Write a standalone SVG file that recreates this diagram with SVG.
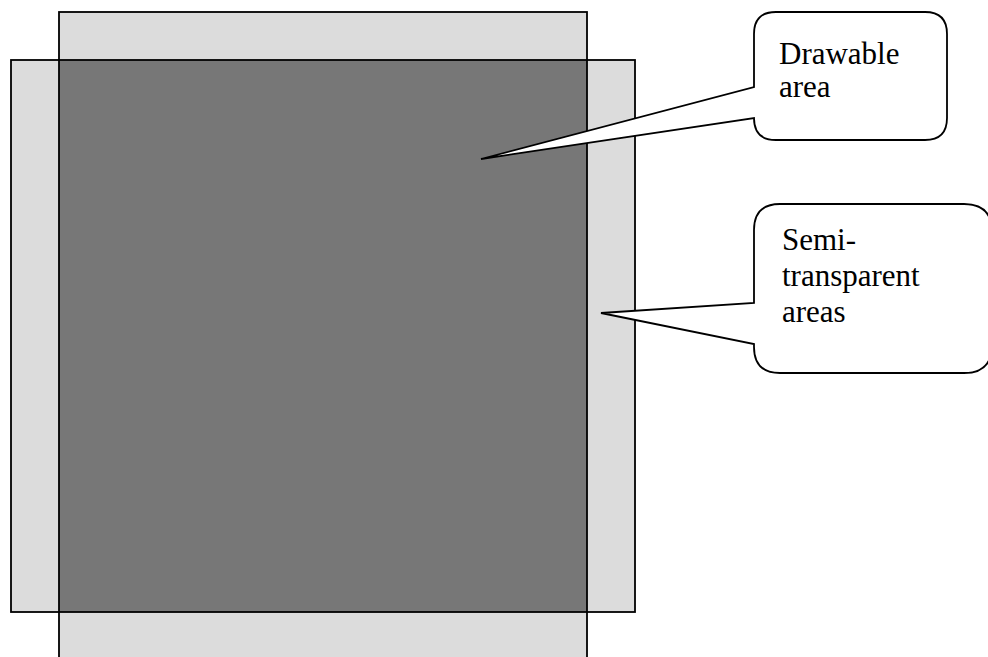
<svg xmlns="http://www.w3.org/2000/svg" width="988" height="657" viewBox="0 0 988 657">
<style>
.light{fill:#dcdcdc;stroke:none}
.dark{fill:#777777;stroke:none}
.edge{fill:none;stroke:#000;stroke-width:1.8}
.callout{fill:#fff;stroke:#000;stroke-width:1.8;stroke-linejoin:miter}
</style>
<rect width="988" height="657" fill="#fff"/>
<g id="areas">
<rect class="light" x="59" y="12" width="528" height="650"/>
<rect class="light" x="11" y="60" width="624" height="552"/>
<rect class="dark" x="59" y="60" width="528" height="552"/>
<rect class="edge" x="59" y="12" width="528" height="650"/>
<rect class="edge" x="11" y="60" width="624" height="552"/>
</g>
<g id="callout-drawable">
<path class="callout" d="M776 12 H925 Q947 12 947 34 V118 Q947 140 925 140 H776 Q754 140 754 118 L481 159 L754 87 V34 Q754 12 776 12 Z"/>
<text font-family="Liberation Serif, serif" font-size="31" fill="#000" x="779" y="64">Drawable</text>
<text font-family="Liberation Serif, serif" font-size="31" fill="#000" x="779" y="97">area</text>
</g>
<g id="callout-semi">
<path class="callout" d="M780 204 H964 Q992 204 992 232 V345 Q992 373 964 373 H780 Q754 373 754 347 V344 L601 313 L754 303 V230 Q754 204 780 204 Z"/>
<text font-family="Liberation Serif, serif" font-size="31" fill="#000" x="782" y="250">Semi-</text>
<text font-family="Liberation Serif, serif" font-size="31" fill="#000" x="782" y="286">transparent</text>
<text font-family="Liberation Serif, serif" font-size="31" fill="#000" x="782" y="322">areas</text>
</g>
</svg>
